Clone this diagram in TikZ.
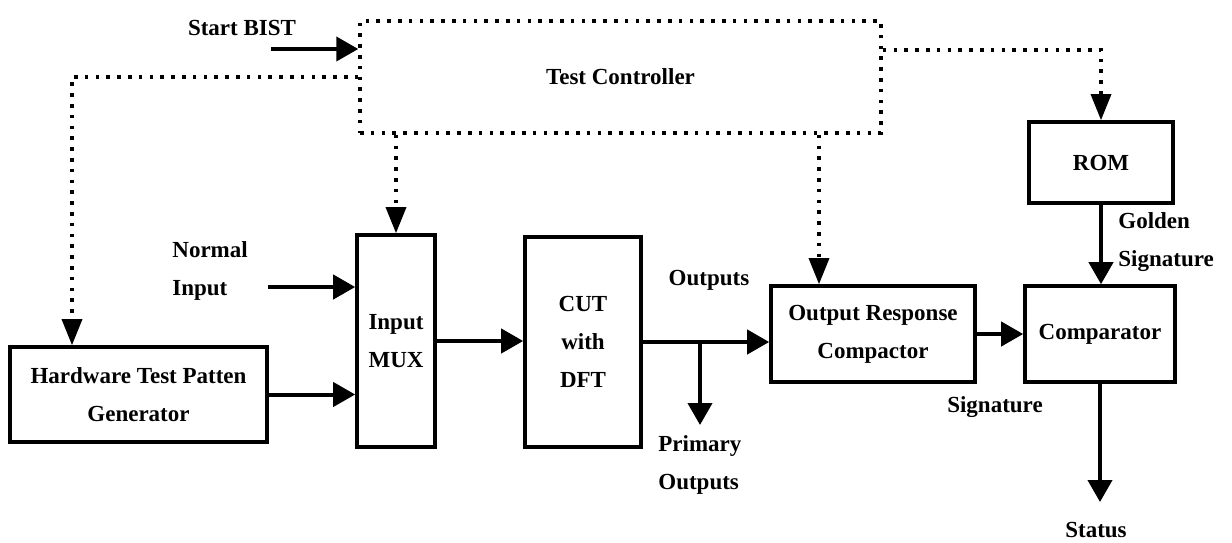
\documentclass[tikz,border=0pt]{standalone}
\usepackage{fontspec}
\setmainfont{Liberation Serif}
\usetikzlibrary{arrows.meta}
\begin{document}
\begin{tikzpicture}[x=0.5pt,y=-0.5pt,
  box/.style={draw, line width=1.8pt, inner sep=0pt, align=center, font=\fontsize{11.5}{19}\selectfont\bfseries},
  lbl/.style={inner sep=0pt, align=center, font=\fontsize{11.5}{19}\selectfont\bfseries},
  arr/.style={line width=2pt, -{Triangle[length=11pt,width=12pt]}},
  ctl/.style={line width=1.7pt, dash pattern=on 1.8pt off 3.6pt, -{Triangle[length=13pt,width=10pt]}},
]
\useasboundingbox (0,0) rectangle (1232,542);
% blocks
\node[box, line width=1.7pt, dash pattern=on 1.8pt off 3.6pt, minimum width=260.5pt, minimum height=56pt] (tc) at (620.5,77) {Test Controller};
\node[box, minimum width=128.5pt, minimum height=47.5pt] (htpg) at (138.5,394.5) {Hardware Test Patten\\Generator};
\node[box, minimum width=39pt, minimum height=106pt] (mux) at (396,341) {Input\\MUX};
\node[box, minimum width=58pt, minimum height=105pt] (cut) at (583,342) {CUT\\with\\DFT};
\node[box, minimum width=102pt, minimum height=48pt] (orc) at (873,334) {Output Response\\Compactor};
\node[box, minimum width=75pt, minimum height=48pt] (cmp) at (1100,334) {Comparator};
\node[box, minimum width=72pt, minimum height=40.5pt] (rom) at (1101,162.5) {ROM};
% labels
\node[lbl] (sb) at (242,28) {Start BIST};
\node[lbl, align=left, anchor=west] (ni) at (172,271) {Normal\\Input};
\node[lbl] (out) at (709,280) {Outputs};
\node[lbl, align=left, anchor=west] (pol) at (658,465) {Primary\\Outputs};
\node[lbl] (sig) at (995,407) {Signature};
\node[lbl, align=left, anchor=west] (gs) at (1118,242) {Golden\\Signature};
\node[lbl] (stl) at (1096,530) {Status};
% free ends
\coordinate (sbs) at (271,49);
\coordinate (nis) at (268,287);
\coordinate (lc) at (72,77);
\coordinate (oc) at (819,0);
\coordinate (rc) at (0,50);
\coordinate (br) at (700,342);
\coordinate (pe) at (700,425);
\coordinate (se) at (1100,502);
% solid connectors
\draw[arr] (sbs) -- (sbs -| tc.west);
\draw[arr] (nis) -- (nis -| mux.west);
\draw[arr] (htpg.east) -- (htpg.east -| mux.west);
\draw[arr] (mux.east) -- (mux.east -| cut.west);
\draw[arr] (cut.east) -- (cut.east -| orc.west);
\draw[arr] (br) -- (pe);
\draw[arr] (orc.east) -- (cmp.west);
\draw[arr] (rom.south) -- (rom.south |- cmp.north);
\draw[arr] (cmp.south) -- (se);
% control (dotted) connectors
\draw[ctl] (tc.west) -| (htpg.north -| lc);
\draw[ctl] (tc.south -| mux.north) -- (mux.north);
\draw[ctl] (tc.south -| oc) -- (orc.north -| oc);
\draw[ctl] (tc.east |- rc) -| (rom.north);
\end{tikzpicture}
\end{document}
